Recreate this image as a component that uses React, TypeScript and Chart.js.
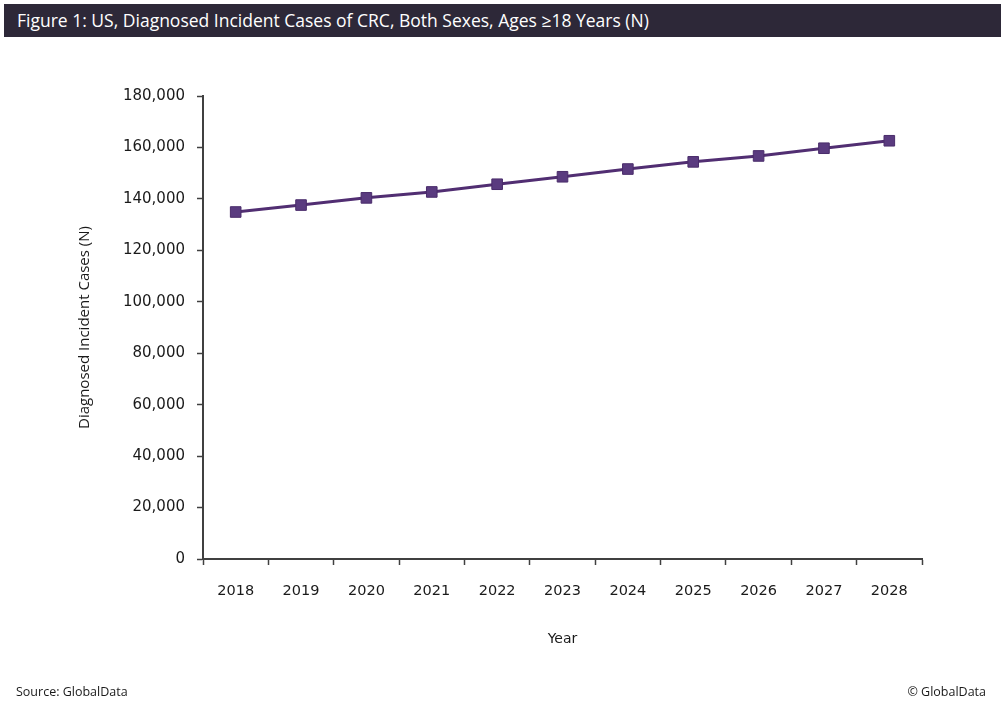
import React, { useEffect, useRef } from "react";
import { Chart, registerables } from "chart.js";

Chart.register(...registerables);

const years = ["2018", "2019", "2020", "2021", "2022", "2023", "2024", "2025", "2026", "2027", "2028"];
const cases = [134900, 137600, 140400, 142700, 145700, 148600, 151600, 154400, 156700, 159700, 162600];
const yTicks = [0, 20000, 40000, 60000, 80000, 100000, 120000, 140000, 160000, 180000];

const TITLE = "Figure 1: US, Diagnosed Incident Cases of CRC, Both Sexes, Ages \u226518 Years (N)";

export default function App() {
  const ref = useRef<HTMLCanvasElement | null>(null);

  useEffect(() => {
    if (!ref.current) return;
    const axisColor = "#404040";
    const chart = new Chart(ref.current, {
      type: "line",
      data: {
        labels: years,
        datasets: [
          {
            data: cases,
            borderColor: "#512e72",
            borderWidth: 3,
            backgroundColor: "#5a3b7f",
            pointBackgroundColor: "#5a3b7f",
            pointBorderColor: "#4a2c6b",
            pointBorderWidth: 1,
            pointStyle: "rect",
            pointRadius: 7.5,
            tension: 0,
          },
        ],
      },
      options: {
        animation: false,
        responsive: false,
        maintainAspectRatio: false,
        layout: { padding: { top: 96, right: 85, left: 0, bottom: 0 } },
        plugins: { legend: { display: false }, tooltip: { enabled: false } },
        scales: {
          x: {
            offset: true,
            afterFit: (s: any) => {
              s.height = 143;
            },
            grid: {
              offset: true,
              drawOnChartArea: false,
              drawTicks: true,
              tickLength: 6,
              tickColor: axisColor,
              tickWidth: 1.5,
            },
            border: { color: axisColor, width: 2 },
            ticks: {
              color: "#1a1a1a",
              padding: 18,
              font: { family: "DejaVu Sans", size: 14.5 },
              maxRotation: 0,
            },
            title: {
              display: true,
              text: "Year",
              color: "#1a1a1a",
              font: { family: "DejaVu Sans", size: 14 },
              padding: { top: 0, bottom: 54 },
            },
          },
          y: {
            min: 0,
            max: 180000,
            afterFit: (s: any) => {
              s.width = 203;
            },
            afterBuildTicks: (s: any) => {
              s.ticks = yTicks.map((v) => ({ value: v }));
            },
            grid: {
              drawOnChartArea: false,
              drawTicks: true,
              tickLength: 6,
              tickColor: axisColor,
              tickWidth: 1.5,
            },
            border: { color: axisColor, width: 2 },
            ticks: {
              color: "#1a1a1a",
              padding: 12,
              font: { family: "DejaVu Sans", size: 15 },
              callback: (v: any) => Number(v).toLocaleString("en-US"),
            },
            title: {
              display: true,
              text: "Diagnosed Incident Cases (N)",
              color: "#1a1a1a",
              font: { family: "Open Sans", size: 15 },
              padding: { top: 76, bottom: 0 },
            },
          },
        },
      },
    });
    return () => chart.destroy();
  }, []);

  return (
    <div style={{ position: "absolute", left: 0, top: 0, width: 1007, height: 702, background: "#fff", overflow: "hidden" }}>
      <div
        style={{
          position: "absolute",
          left: 4,
          top: 4,
          width: 997,
          height: 33,
          background: "#2d2838",
          color: "#fff",
          fontFamily: "Open Sans",
          fontSize: 17.5,
          lineHeight: "33px",
          paddingLeft: 13,
          boxSizing: "border-box",
          whiteSpace: "nowrap",
        }}
      >
        {TITLE}
      </div>
      <canvas ref={ref} width={1007} height={702} style={{ position: "absolute", left: 0, top: 0, width: 1007, height: 702 }} />
      <div style={{ position: "absolute", left: 16, top: 683, fontFamily: "Open Sans", fontSize: 12.5, color: "#1a1a1a" }}>
        Source: GlobalData
      </div>
      <div style={{ position: "absolute", right: 21, top: 683, fontFamily: "Open Sans", fontSize: 12.5, color: "#1a1a1a" }}>
        © GlobalData
      </div>
    </div>
  );
}
